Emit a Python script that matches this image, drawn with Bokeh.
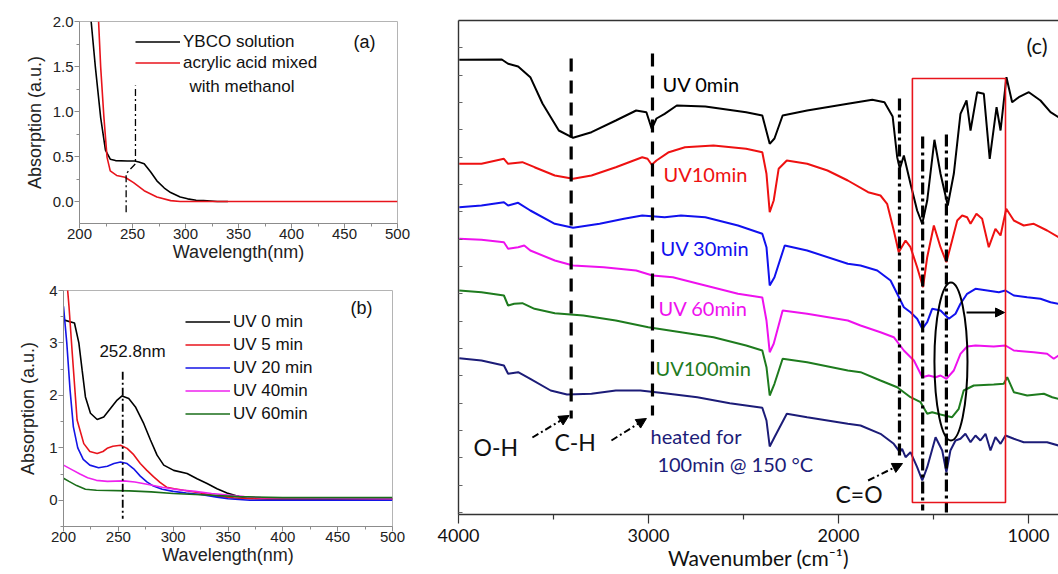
import math
from bokeh.plotting import figure
from bokeh.layouts import row, column
from bokeh.models import (Range1d, FixedTicker, Label, Legend, LegendItem,
                          LinearAxis, Arrow, NormalHead, PrintfTickFormatter)
from bokeh.embed import file_html
from bokeh.resources import INLINE

# ---------------- Panel (a): UV-vis of solution vs solvent ----------------
a_ybco_nm = [211, 215, 220, 224.5, 229, 234, 245, 252, 256, 261, 267, 273, 280,
             286, 295, 302, 310, 317, 330, 340]
a_ybco_abs = [2.0, 1.49, 0.93, 0.57, 0.47, 0.455, 0.45, 0.45, 0.44, 0.42, 0.33,
              0.23, 0.15, 0.10, 0.05, 0.03, 0.015, 0.01, 0.0, 0.0]
a_acryl_nm = [218, 220, 223, 226, 229, 235, 243, 251, 261, 273, 286, 295, 500]
a_acryl_abs = [2.0, 1.49, 0.94, 0.49, 0.34, 0.29, 0.27, 0.21, 0.12, 0.05, 0.01,
               0.0, 0.0]
a_labels = ["YBCO solution", "acrylic acid mixed", " with methanol"]

# ---------------- Panel (b): UV-vis vs UV exposure time ----------------
b_labels = ["UV 0 min", "UV 5 min", "UV 20 min", "UV 40min", "UV 60min"]
b_uv0_nm = [200, 210, 214, 217, 220, 224.6, 230.7, 236.7, 242.8, 248.9, 253.4,
            259.5, 265.6, 273.2, 279.3, 285.3, 291.4, 300.5, 312.7, 321.8,
            330.9, 340, 349.1, 358.2, 367.3, 385.5, 500]
b_uv0_abs = [3.44, 3.38, 3.0, 2.48, 1.97, 1.66, 1.54, 1.59, 1.75, 1.91, 1.99,
             1.94, 1.78, 1.46, 1.15, 0.86, 0.67, 0.57, 0.51, 0.41, 0.32, 0.22,
             0.14, 0.08, 0.04, 0.025, 0.025]
b_uv5_nm = [203, 205, 208, 212.4, 218.5, 224, 230.7, 236, 239.8, 245, 252, 258,
            264, 270, 276, 282, 288, 294, 301, 309.6, 324.8, 340, 355, 370, 500]
b_uv5_abs = [4.2, 3.7, 2.8, 1.53, 1.08, 0.93, 0.89, 0.93, 0.99, 1.03, 1.05,
             0.99, 0.87, 0.70, 0.57, 0.45, 0.34, 0.25, 0.22, 0.19, 0.14, 0.08,
             0.045, 0.03, 0.03]
b_uv20_nm = [200, 203, 206, 209, 213, 218, 224, 232, 240, 246, 252, 258, 264,
             270, 276, 282, 290, 300, 312, 325, 340, 350, 370, 500]
b_uv20_abs = [3.7, 3.0, 2.1, 1.4, 1.0, 0.78, 0.67, 0.62, 0.65, 0.70, 0.73, 0.70,
              0.60, 0.46, 0.35, 0.27, 0.21, 0.17, 0.14, 0.11, 0.06, 0.03, 0.0, 0.0]
b_uv40_nm = [200, 208, 215, 222, 230, 240, 255, 265, 275, 290, 305, 320, 335,
             350, 365, 380, 500]
b_uv40_abs = [0.67, 0.58, 0.5, 0.43, 0.38, 0.36, 0.37, 0.35, 0.31, 0.25, 0.20,
              0.17, 0.13, 0.10, 0.07, 0.05, 0.03]
b_uv60_nm = [200, 205, 212, 220, 230, 260, 280, 300, 330, 360, 400, 500]
b_uv60_abs = [0.42, 0.36, 0.28, 0.21, 0.19, 0.18, 0.16, 0.13, 0.10, 0.07, 0.05,
              0.05]
b_peak_label = "252.8nm"
b_peak_nm = 254

# ---------------- Panel (c): FTIR spectra ----------------
c_labels = ["UV 0min", "UV10min", "UV 30min", "UV 60min", "UV100min",
            "heated for", "100min @ 150 \u00b0C"]
c_uv0_wn = [3996, 3772, 3739, 3686, 3622, 3558, 3472, 3397, 3300, 3172, 3065,
            3011, 2983, 2958, 2915, 2851, 2701, 2486, 2401, 2362, 2337, 2294,
            2165, 1951, 1822, 1758, 1715, 1691, 1677, 1656, 1621, 1586, 1559,
            1533, 1495, 1463, 1425, 1393, 1358, 1326, 1305, 1270, 1235, 1204,
            1168, 1147, 1116, 1086, 1051, 998, 937, 884, 842]
c_uv0_abs = [4.547, 4.55, 4.507, 4.48, 4.373, 4.11, 3.84, 3.767, 3.823, 3.94,
             4.04, 4.023, 3.857, 3.96, 4.007, 4.09, 4.08, 4.023, 3.99, 3.707,
             3.76, 3.99, 4.04, 4.107, 4.147, 4.123, 3.98, 3.573, 3.457, 3.59,
             3.307, 3.04, 2.907, 3.14, 3.747, 3.407, 3.09, 3.407, 4.007, 4.14,
             3.84, 4.223, 4.207, 3.557, 4.073, 3.84, 4.373, 4.123, 4.173, 4.223,
             4.14, 4.023, 3.973]
c_uv10_wn = [3996, 3879, 3761, 3739, 3664, 3600, 3493, 3397, 3300, 3172, 3033,
             3005, 2983, 2958, 2893, 2808, 2658, 2486, 2401, 2379, 2362, 2341,
             2315, 2272, 2165, 2058, 1951, 1844, 1779, 1744, 1709, 1683, 1647,
             1621, 1586, 1555, 1533, 1498, 1463, 1432, 1402, 1375, 1349, 1323,
             1305, 1274, 1244, 1209, 1174, 1147, 1117, 1077, 1025, 972, 902, 842]
c_uv10_abs = [3.507, 3.507, 3.557, 3.507, 3.523, 3.473, 3.39, 3.357, 3.39,
              3.473, 3.573, 3.557, 3.497, 3.54, 3.623, 3.673, 3.69, 3.657, 3.623,
              3.407, 3.023, 3.14, 3.457, 3.54, 3.507, 3.44, 3.34, 3.223, 3.19,
              3.107, 2.84, 2.623, 2.74, 2.673, 2.473, 2.273, 2.573, 2.89, 2.673,
              2.523, 2.74, 2.94, 2.99, 2.973, 2.907, 3.007, 2.957, 2.673, 2.857,
              2.79, 3.057, 2.94, 2.89, 2.907, 2.84, 2.773]
c_uv30_wn = [3996, 3879, 3761, 3739, 3686, 3622, 3493, 3397, 3257, 3129, 3033,
             2915, 2829, 2701, 2529, 2401, 2379, 2362, 2337, 2283, 2165, 1951,
             1884, 1796, 1726, 1691, 1656, 1621, 1586, 1559, 1533, 1507, 1463,
             1419, 1384, 1358, 1323, 1279, 1217, 1156, 1121, 1077, 1007, 937, 884,
             842]
c_uv30_abs = [3.073, 3.09, 3.123, 3.09, 3.117, 3.04, 2.907, 2.867, 2.907, 2.957,
              2.99, 2.973, 2.99, 2.973, 2.89, 2.807, 2.673, 2.29, 2.373, 2.69,
              2.64, 2.507, 2.49, 2.44, 2.34, 2.207, 2.073, 2.023, 1.957, 1.857,
              1.923, 2.057, 2.04, 1.957, 2.007, 2.107, 2.207, 2.257, 2.24, 2.223,
              2.24, 2.19, 2.173, 2.157, 2.123, 2.107]
c_uv60_wn = [3996, 3879, 3761, 3739, 3686, 3654, 3622, 3493, 3397, 3236, 3065,
             2979, 2872, 2701, 2529, 2401, 2379, 2362, 2341, 2294, 2165, 1951,
             1884, 1779, 1709, 1656, 1603, 1559, 1525, 1489, 1463, 1432, 1393,
             1358, 1323, 1279, 1183, 1121, 1077, 972, 902, 867, 842]
c_uv60_abs = [2.757, 2.747, 2.723, 2.657, 2.673, 2.69, 2.64, 2.54, 2.49, 2.473,
              2.44, 2.39, 2.373, 2.29, 2.207, 2.17, 1.94, 1.623, 1.707, 2.04,
              2.007, 1.94, 1.89, 1.823, 1.773, 1.64, 1.54, 1.373, 1.39, 1.373,
              1.39, 1.357, 1.44, 1.607, 1.68, 1.69, 1.68, 1.69, 1.64, 1.623,
              1.607, 1.557, 1.59]
c_uv100_wn = [3996, 3879, 3761, 3739, 3707, 3664, 3600, 3493, 3343, 3172, 3001,
              2829, 2658, 2486, 2401, 2379, 2362, 2337, 2294, 2165, 1951, 1884,
              1779, 1691, 1621, 1568, 1533, 1507, 1463, 1402, 1367, 1341, 1288,
              1183, 1130, 1112, 1077, 1007, 919, 875, 842]
c_uv100_abs = [2.24, 2.223, 2.19, 2.09, 2.107, 2.113, 2.057, 2.013, 1.99, 1.94,
               1.873, 1.823, 1.773, 1.69, 1.64, 1.473, 1.19, 1.307, 1.557,
               1.523, 1.44, 1.423, 1.34, 1.273, 1.173, 1.123, 1.007, 1.023, 1.0,
               0.973, 1.057, 1.24, 1.29, 1.30, 1.307, 1.373, 1.223, 1.19, 1.207,
               1.173, 1.157]
c_heat_wn = [3996, 3879, 3761, 3739, 3686, 3622, 3515, 3429, 3300, 3172, 3043,
             2915, 2743, 2572, 2401, 2379, 2362, 2337, 2272, 2165, 1951, 1884,
             1779, 1709, 1677, 1665, 1647, 1621, 1586, 1559, 1533, 1489, 1454,
             1432, 1411, 1384, 1358, 1332, 1305, 1279, 1253, 1226, 1200, 1174,
             1147, 1121, 1077, 1025, 972, 902, 842]
c_heat_abs = [1.563, 1.54, 1.49, 1.407, 1.423, 1.357, 1.24, 1.20, 1.207, 1.24,
              1.24, 1.213, 1.173, 1.113, 1.067, 0.94, 0.68, 0.773, 1.007, 0.973,
              0.907, 0.89, 0.807, 0.707, 0.623, 0.657, 0.573, 0.623, 0.473, 0.34,
              0.473, 0.773, 0.64, 0.423, 0.64, 0.74, 0.757, 0.807, 0.723, 0.79,
              0.74, 0.807, 0.64, 0.773, 0.707, 0.79, 0.757, 0.723, 0.723, 0.723,
              0.69]
c_bands = ["O-H", "C-H", "C=O"]

# =====================================================================
FA = "Liberation Sans"
FC = "Lato"


def style_uv(p, xt, xm, yt, ym):
    p.xaxis.ticker = FixedTicker(ticks=xt, minor_ticks=xm)
    p.yaxis.ticker = FixedTicker(ticks=yt, minor_ticks=ym)
    p.xgrid.visible = False
    p.ygrid.visible = False
    p.outline_line_color = "#b4b4b4"
    for ax in (p.xaxis[0], p.yaxis[0]):
        ax.axis_line_color = "#8c8c8c"
        ax.major_tick_line_color = "#8c8c8c"
        ax.minor_tick_line_color = "#8c8c8c"
        ax.major_tick_in = 0
        ax.major_tick_out = 5
        ax.minor_tick_in = 0
        ax.minor_tick_out = 3
        ax.major_label_text_font = FA
        ax.major_label_text_font_size = "15px"
        ax.major_label_text_color = "#222222"
        ax.axis_label_text_font = FA
        ax.axis_label_text_font_size = "18px"
        ax.axis_label_text_font_style = "normal"
        ax.axis_label_text_color = "#222222"
        ax.major_label_standoff = 1
    p.xaxis.axis_label_standoff = 0
    p.xaxis.major_label_standoff = 0


# ---------------- figure (a) ----------------
pa = figure(frame_width=318, frame_height=202, min_border_left=79,
            min_border_right=21, min_border_top=21, min_border_bottom=42,
            x_range=Range1d(200, 500), y_range=Range1d(-0.244, 2.0),
            output_backend="svg", toolbar_location=None, frame_align=False)
style_uv(pa, [200, 250, 300, 350, 400, 450, 500],
         [225, 275, 325, 375, 425, 475],
         [0.0, 0.5, 1.0, 1.5, 2.0], [-0.25, 0.25, 0.75, 1.25, 1.75])
pa.yaxis.formatter = PrintfTickFormatter(format="%.1f")
pa.xaxis.axis_label = "Wavelength(nm)"
pa.yaxis.axis_label = "Absorption (a.u.)"
pa.yaxis.axis_label_standoff = 5
ra1 = pa.line(a_ybco_nm, a_ybco_abs, line_color="black", line_width=1.6)
ra2 = pa.line(a_acryl_nm, a_acryl_abs, line_color="#e8141c", line_width=1.6)
pa.line([244, 244, 252.8, 252.8], [-0.12, 0.31, 0.42, 1.29],
        line_color="black", line_width=1.3, line_dash="7 3 2 3")
leg_a = Legend(items=[LegendItem(label=a_labels[0], renderers=[ra1]),
                      LegendItem(label=a_labels[1], renderers=[ra2])],
               location=(56, 150), glyph_width=45, glyph_height=21,
               label_height=21, spacing=0, padding=0, margin=0,
               label_standoff=3, border_line_color=None,
               background_fill_alpha=0, label_text_font=FA,
               label_text_font_size="17px", label_text_color="#111111")
pa.add_layout(leg_a)
pa.add_layout(Label(x=303.8, y=1.278, text=a_labels[2], text_font=FA,
                    text_font_size="17px", text_baseline="middle",
                    text_color="#111111"))
pa.add_layout(Label(x=458.5, y=1.767, text="(a)", text_font=FA,
                    text_font_size="18px", text_baseline="middle",
                    text_color="#111111"))

# ---------------- figure (b) ----------------
pb = figure(frame_width=329, frame_height=236, min_border_left=63,
            min_border_right=26, min_border_top=25, min_border_bottom=48,
            x_range=Range1d(200, 500), y_range=Range1d(-0.5, 4.0),
            output_backend="svg", toolbar_location=None, frame_align=False)
style_uv(pb, [200, 250, 300, 350, 400, 450, 500],
         [225, 275, 325, 375, 425, 475],
         [0, 1, 2, 3, 4], [-0.5, 0.5, 1.5, 2.5, 3.5])
pb.xaxis.axis_label = "Wavelength(nm)"
pb.yaxis.axis_label = "Absorption (a.u.)"
pb.yaxis.axis_label_standoff = 8
b_colors = ["black", "#e8141c", "#1414e6", "#ee22ee", "#1a6e1a"]
b_x = [b_uv0_nm, b_uv5_nm, b_uv20_nm, b_uv40_nm, b_uv60_nm]
b_y = [b_uv0_abs, b_uv5_abs, b_uv20_abs, b_uv40_abs, b_uv60_abs]
b_r = []
for xs, ys, c in zip(b_x, b_y, b_colors):
    b_r.append(pb.line(xs, ys, line_color=c, line_width=1.6))
pb.line([b_peak_nm, b_peak_nm], [2.45, -0.35], line_color="black",
        line_width=1.8, line_dash="8 3 2 3")
leg_b = Legend(items=[LegendItem(label=l, renderers=[r])
                      for l, r in zip(b_labels, b_r)],
               location=(122, 101), glyph_width=45, glyph_height=23,
               label_height=23, spacing=0, padding=0, margin=0,
               label_standoff=3, border_line_color=None,
               background_fill_alpha=0, label_text_font=FA,
               label_text_font_size="17px", label_text_color="#111111")
pb.add_layout(leg_b)
pb.add_layout(Label(x=262.9, y=2.83, text=b_peak_label, text_font=FA,
                    text_font_size="17px", text_align="center",
                    text_baseline="middle", text_color="#111111"))
pb.add_layout(Label(x=461.6, y=3.67, text="(b)", text_font=FA,
                    text_font_size="18px", text_baseline="middle",
                    text_color="#111111"))

# ---------------- figure (c) ----------------
pc = figure(frame_width=600, frame_height=494, min_border_left=40,
            min_border_right=0, min_border_top=20, min_border_bottom=60,
            x_range=Range1d(4000, 842), y_range=Range1d(0, 4.94),
            output_backend="svg", toolbar_location=None, frame_align=False)
pc.xgrid.visible = False
pc.ygrid.visible = False
pc.outline_line_color = None
pc.xaxis.ticker = FixedTicker(ticks=[4000, 3000, 2000, 1000],
                              minor_ticks=[3500, 2500, 1500])
# unlabeled inward tick marks on the left axis (minor ticks carry no labels)
pc.yaxis.ticker = FixedTicker(ticks=[], minor_ticks=[round(4.667 - 0.2733 * k, 4)
                                                     for k in range(18)])
for ax in (pc.xaxis[0], pc.yaxis[0]):
    ax.axis_line_color = "#333333"
    ax.axis_line_width = 1.4
    ax.major_tick_line_color = "#333333"
    ax.minor_tick_line_color = "#333333"
    ax.major_tick_line_width = 1.2
    ax.minor_tick_line_width = 1.2
pc.xaxis.major_tick_in = 0
pc.xaxis.major_tick_out = 9
pc.xaxis.minor_tick_in = 0
pc.xaxis.minor_tick_out = 5
pc.xaxis.major_label_text_font = FC
pc.xaxis.major_label_text_font_size = "18px"
pc.xaxis.major_label_text_color = "#111111"
pc.xaxis.major_label_standoff = 5
pc.xaxis.axis_label = "Wavenumber (cm\u207b\u00b9)"
pc.xaxis.axis_label_text_font = FC
pc.xaxis.axis_label_text_font_size = "21px"
pc.xaxis.axis_label_text_font_style = "normal"
pc.xaxis.axis_label_text_color = "#111111"
pc.xaxis.axis_label_standoff = 0
pc.yaxis.minor_tick_in = 4
pc.yaxis.minor_tick_out = 0
pc.yaxis.minor_tick_line_color = "#666666"
pc.add_layout(LinearAxis(axis_line_color="#333333", axis_line_width=1.4,
                         ticker=FixedTicker(ticks=[], minor_ticks=[]),
                         major_tick_line_color=None,
                         minor_tick_line_color=None), "above")

c_colors = ["black", "#ee1111", "#1111ee", "#ee11ee", "#1e7b1e", "#1c1c78"]
c_x = [c_uv0_wn, c_uv10_wn, c_uv30_wn, c_uv60_wn, c_uv100_wn, c_heat_wn]
c_y = [c_uv0_abs, c_uv10_abs, c_uv30_abs, c_uv60_abs, c_uv100_abs, c_heat_abs]
for xs, ys, c in zip(c_x, c_y, c_colors):
    pc.line(xs, ys, line_color=c, line_width=2)

# band marker lines
pc.segment(x0=[3407, 2979], y0=[4.56, 4.61], x1=[3407, 2979], y1=[0.96, 0.99],
           line_color="black", line_width=3.2, line_dash="13 9")
pc.segment(x0=[1679, 1557, 1432], y0=[4.16, 3.78, 3.80],
           x1=[1679, 1557, 1432], y1=[0.57, 0.04, 0.02],
           line_color="black", line_width=3.2, line_dash="12 4 3 4")
# highlight box and ellipse
pc.quad(left=[1611], right=[1121], bottom=[0.12], top=[4.36],
        fill_color=None, line_color="#e8141c", line_width=1.6)
pc.ellipse(x=[1408], y=[1.53], width=[174], height=[1.58], fill_color=None,
           line_color="black", line_width=2)
pc.add_layout(Arrow(x_start=1326, y_start=2.02, x_end=1126, y_end=2.02,
                    line_color="black", line_width=1.8,
                    end=NormalHead(size=9, fill_color="black",
                                   line_color="black")))
for xs, ys, xe, ye in [(3611, 0.77, 3418, 0.99), (3195, 0.74, 3011, 0.96),
                       (1844, 0.34, 1663, 0.51)]:
    pc.add_layout(Arrow(x_start=xs, y_start=ys, x_end=xe, y_end=ye,
                        line_color="black", line_width=2,
                        line_dash="7 3 2 3",
                        end=NormalHead(size=10, fill_color="black",
                                       line_color="black")))

# curve labels
c_text_pos = [(2926, 4.305), (2921, 3.41), (2937, 2.67), (2947, 2.07),
              (2963, 1.47), (2989, 0.79), (2953, 0.51)]
c_text_col = c_colors[:5] + [c_colors[5], c_colors[5]]
for t, (x, y), c in zip(c_labels, c_text_pos, c_text_col):
    pc.add_layout(Label(x=x, y=y, text=t, text_font=FC, text_font_size="20px",
                        text_baseline="middle", text_color=c))
for t, (x, y) in zip(c_bands, [(3921, 0.68), (3495, 0.73), (2016, 0.21)]):
    pc.add_layout(Label(x=x, y=y, text=t, text_font=FC, text_font_size="23px",
                        text_baseline="middle", text_color="#111111"))
pc.add_layout(Label(x=1011, y=4.69, text="(c)", text_font=FC,
                    text_font_size="22px", text_baseline="middle",
                    text_color="#111111"))
# y axis title (placed lower than centre, as in the original)
pc.add_layout(Label(x=4110, y=2.12, text="Absorption (a.u.)", text_font=FC,
                    text_font_size="22px", angle=math.pi / 2,
                    text_align="center", text_baseline="middle",
                    text_color="#111111"))

layout = row(column(pa, pb), pc)
open("out.html", "w").write(file_html(layout, INLINE))
